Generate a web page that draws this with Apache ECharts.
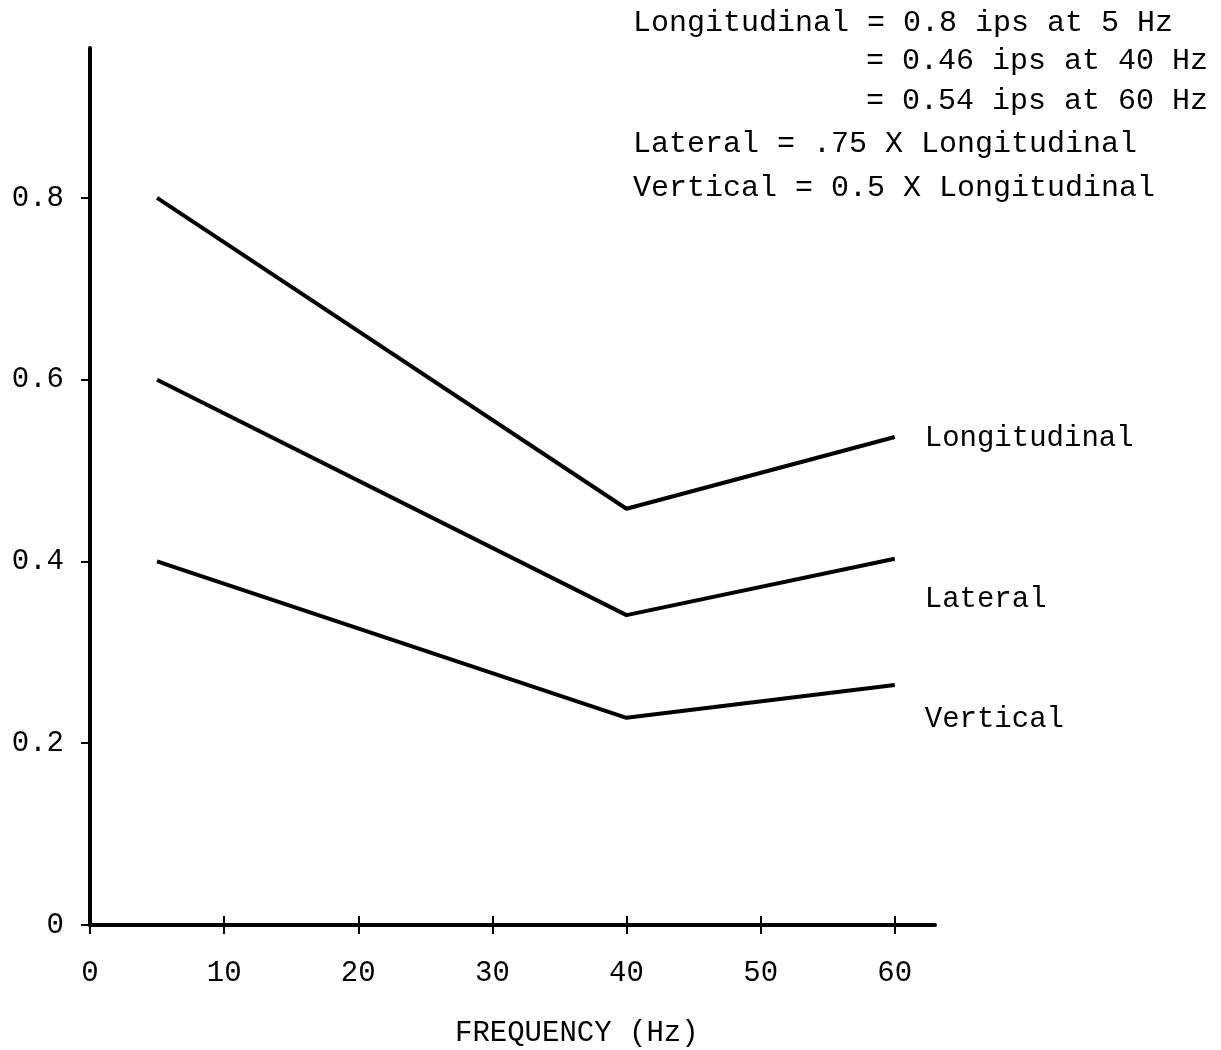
<!DOCTYPE html>
<html>
<head>
<meta charset="utf-8">
<script src="https://cdn.jsdelivr.net/npm/echarts@6/dist/echarts.min.js"></script>
<style>
html,body{margin:0;padding:0;background:#fff;}
#chart{width:1221px;height:1050px;}
</style>
</head>
<body>
<div id="chart"></div>
<script>
const frequencies = [5, 40, 60];
const longitudinal = [0.8, 0.458, 0.537];
const lateral = [0.6, 0.341, 0.403];
const vertical = [0.4, 0.228, 0.264];
const xTicks = [0, 10, 20, 30, 40, 50, 60];
const yTicks = [0, 0.2, 0.4, 0.6, 0.8];
const seriesNames = ['Longitudinal', 'Lateral', 'Vertical'];
const notes = [
  'Longitudinal = 0.8 ips at 5 Hz',
  '= 0.46 ips at 40 Hz',
  '= 0.54 ips at 60 Hz',
  'Lateral = .75 X Longitudinal',
  'Vertical = 0.5 X Longitudinal'
];
const xAxisTitle = 'FREQUENCY (Hz)';

const FONT = '"Liberation Mono", "Courier New", monospace';
const chart = echarts.init(document.getElementById('chart'));

function pairs(vals) { return frequencies.map((f, i) => [f, vals[i]]); }

const labelOffsets = [[0, 1], [0, 41], [0, 34]];
const allSeries = [longitudinal, lateral, vertical].map((vals, i) => ({
  name: seriesNames[i],
  type: 'line',
  xAxisIndex: 0,
  yAxisIndex: 0,
  data: pairs(vals),
  symbol: 'none',
  lineStyle: { color: '#000', width: 4 },
  endLabel: {
    show: true,
    formatter: seriesNames[i],
    color: '#000',
    fontFamily: FONT,
    fontSize: 29,
    distance: 30,
    offset: labelOffsets[i]
  },
  animation: false
}));

const noteX = [633, 866, 866, 633, 633];
const noteY = [25, 63, 103, 146, 190];

chart.setOption({
  backgroundColor: '#fff',
  animation: false,
  grid: { left: 90, right: 286, top: 48, bottom: 125 },
  xAxis: [{
    type: 'value', min: 0, max: 63, interval: 10,
    axisLine: { show: true, lineStyle: { color: '#000', width: 4 } },
    axisTick: { show: true, inside: false, length: 9, customValues: xTicks, lineStyle: { color: '#000', width: 2 } },
    axisLabel: { customValues: xTicks, color: '#000', fontFamily: FONT, fontSize: 29, margin: 34 },
    splitLine: { show: false }
  }, {
    type: 'value', min: 0, max: 63, interval: 10, position: 'bottom',
    axisLine: { show: false },
    axisTick: { show: true, inside: true, length: 9, customValues: xTicks.slice(1), lineStyle: { color: '#000', width: 2 } },
    axisLabel: { show: false },
    splitLine: { show: false }
  }],
  yAxis: {
    type: 'value', min: 0, max: 0.965, interval: 0.2,
    axisLine: { show: true, lineStyle: { color: '#000', width: 4 } },
    axisTick: { show: true, inside: false, length: 9, customValues: yTicks, lineStyle: { color: '#000', width: 2 } },
    axisLabel: {
      customValues: yTicks, color: '#000', fontFamily: FONT, fontSize: 29, margin: 26,
      formatter: v => (v === 0 ? '0' : v.toFixed(1))
    },
    splitLine: { show: false }
  },
  series: allSeries,
  graphic: notes.map((t, i) => ({
    type: 'text', left: noteX[i], top: noteY[i] - 17,
    style: { text: t, fill: '#000', font: '30px ' + FONT }
  })).concat([{
    type: 'text', left: 455, top: 1019,
    style: { text: xAxisTitle, fill: '#000', font: '29px ' + FONT }
  }])
});
</script>
</body>
</html>
